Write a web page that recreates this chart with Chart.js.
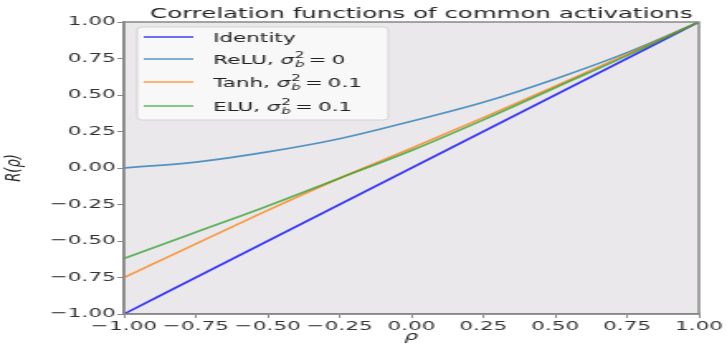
<!DOCTYPE html>
<html>
<head>
<meta charset="utf-8">
<script src="https://cdn.jsdelivr.net/npm/chart.js@4.4.1/dist/chart.umd.min.js"></script>
<style>
  html, body { margin: 0; padding: 0; background: #fff; }
  canvas { display: block; width: 727px; height: 346px; }
</style>
</head>
<body>
<canvas id="chart" width="440" height="346" style="width:727px;height:346px"></canvas>
<script>
// correlation input rho and the output R(rho)
const rho = [-1, -0.75, -0.5, -0.25, 0, 0.25, 0.5, 0.75, 1];
const identity = [-1, -0.75, -0.5, -0.25, 0, 0.25, 0.5, 0.75, 1];
const relu = [0, 0.04, 0.11, 0.2, 0.32, 0.45, 0.61, 0.79, 1];
const tanh = [-0.75, -0.52, -0.29, -0.07, 0.135, 0.345, 0.56, 0.78, 1];
const elu = [-0.62, -0.44, -0.26, -0.07, 0.12, 0.33, 0.55, 0.77, 1];

const seriesNames = ["Identity", "ReLU", "Tanh", "ELU"];
const biasVars = [null, "0", "0.1", "0.1"];
const colors = [
  "rgba(0, 0, 255, 0.75)",
  "rgba(31, 119, 180, 0.75)",
  "rgba(255, 127, 14, 0.75)",
  "rgba(44, 160, 44, 0.75)",
];
const tickValues = [-1, -0.75, -0.5, -0.25, 0, 0.25, 0.5, 0.75, 1];

const FONT = "DejaVu Sans";
const allSeries = [identity, relu, tanh, elu];

const fmt = (v) => {
  const s = Math.abs(v).toFixed(2);
  return v < 0 ? "\u2212" + s : s;
};

const datasets = allSeries.map((vals, i) => ({
  label: biasVars[i] === null ? seriesNames[i] : seriesNames[i] + ", σ_b² = " + biasVars[i],
  data: rho.map((r, k) => ({ x: r, y: vals[k] })),
  borderColor: colors[i],
  borderWidth: 1.7,
  pointRadius: 0,
  fill: false,
  cubicInterpolationMode: "monotone",
  order: allSeries.length - 1 - i,
}));

const framePlugin = {
  id: "frame",
  beforeDraw(chart) {
    const { ctx, chartArea: a } = chart;
    ctx.save();
    ctx.fillStyle = "#eae8ea";
    ctx.fillRect(a.left, a.top, a.right - a.left, a.bottom - a.top);
    ctx.restore();
  },
  afterDraw(chart) {
    const { ctx, chartArea: a } = chart;
    ctx.save();
    ctx.strokeStyle = "#888";
    ctx.lineWidth = 1.5;
    ctx.strokeRect(a.left, a.top, a.right - a.left, a.bottom - a.top);
    // title
    ctx.fillStyle = "#222";
    ctx.font = "14.8px '" + FONT + "'";
    ctx.textAlign = "center";
    ctx.textBaseline = "alphabetic";
    ctx.fillText("Correlation functions of common activations", (a.left + a.right) / 2 + 6, 18);
    ctx.restore();
  },
};

// legend drawn inside the plot, with sigma_b^2 written as super/subscript
const legendPlugin = {
  id: "innerLegend",
  afterDatasetsDraw(chart) {
    const { ctx } = chart;
    const bx = 83, by = 27, bw = 152, bh = 93;
    const rows = [37, 59, 82, 106];
    ctx.save();
    ctx.beginPath();
    ctx.roundRect(bx, by, bw, bh, 3);
    ctx.fillStyle = "rgba(250, 250, 250, 0.85)";
    ctx.fill();
    ctx.strokeStyle = "rgba(210, 210, 210, 0.9)";
    ctx.lineWidth = 1;
    ctx.stroke();

    rows.forEach((y, i) => {
      ctx.strokeStyle = colors[i];
      ctx.lineWidth = 1.5;
      ctx.beginPath();
      ctx.moveTo(87, y);
      ctx.lineTo(117, y);
      ctx.stroke();

      ctx.fillStyle = "#222";
      ctx.textAlign = "left";
      ctx.textBaseline = "alphabetic";
      const base = y + 5;
      let x = 129;
      if (biasVars[i] === null) {
        ctx.font = "13px '" + FONT + "'";
        ctx.fillText(seriesNames[i], x, base);
        return;
      }
      ctx.font = "13px '" + FONT + "'";
      const head = seriesNames[i] + ", ";
      ctx.fillText(head, x, base);
      x += ctx.measureText(head).width;
      ctx.font = "italic 13px '" + FONT + "'";
      ctx.fillText("σ", x, base);
      x += ctx.measureText("σ").width;
      ctx.font = "9px '" + FONT + "'";
      ctx.fillText("2", x + 0.5, base - 6);
      const w2 = ctx.measureText("2").width;
      ctx.font = "italic 9px '" + FONT + "'";
      ctx.fillText("b", x + 0.5, base + 3);
      const wb = ctx.measureText("b").width;
      x += Math.max(w2, wb) + 3;
      ctx.font = "13px '" + FONT + "'";
      ctx.fillText("=", x, base);
      x += ctx.measureText("=").width + 3;
      ctx.fillText(biasVars[i], x, base);
    });
    ctx.restore();
  },
};

const axisCommon = {
  type: "linear",
  min: -1,
  max: 1,
  afterBuildTicks: (scale) => {
    scale.ticks = tickValues.map((v) => ({ value: v }));
  },
  ticks: {
    callback: (v) => fmt(v),
    color: "#333",
    font: { family: FONT, size: 13 },
    autoSkip: false,
    maxRotation: 0,
    minRotation: 0,
    padding: 1,
  },
  grid: {
    drawOnChartArea: false,
    drawTicks: true,
    tickLength: 4,
    tickColor: "#888",
    tickWidth: 1,
  },
  border: { display: true, color: "#888", width: 1.5 },
};

new Chart(document.getElementById("chart"), {
  type: "line",
  data: { datasets },
  options: {
    responsive: false,
    animation: false,
    devicePixelRatio: 1,
    layout: { padding: { left: 0, right: 17, top: 22, bottom: 0 } },
    plugins: {
      legend: { display: false },
      title: { display: false },
      tooltip: { enabled: false },
    },
    scales: {
      x: {
        ...axisCommon,
        afterFit: (scale) => { scale.height = 32; },
        title: {
          display: true,
          text: "ρ",
          color: "#222",
          font: { family: FONT, size: 13, style: "italic" },
          padding: { top: 0, bottom: 2 },
        },
      },
      y: {
        ...axisCommon,
        afterFit: (scale) => { scale.width = 75; },
        title: {
          display: true,
          text: "R(ρ)",
          color: "#222",
          font: { family: FONT, size: 13, style: "italic" },
          padding: { top: 1, bottom: 0 },
        },
      },
    },
  },
  plugins: [framePlugin, legendPlugin],
});
</script>
</body>
</html>
